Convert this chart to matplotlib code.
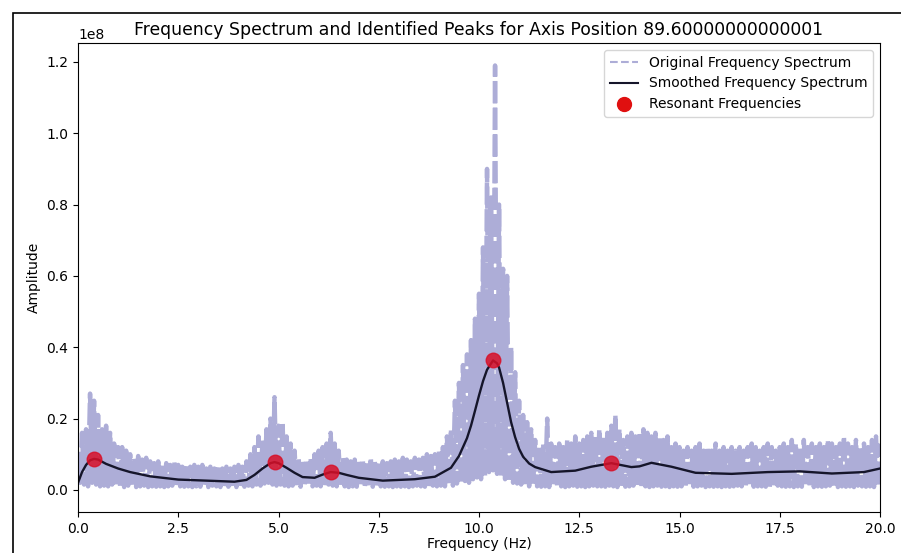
import matplotlib
matplotlib.use("Agg")
import matplotlib.pyplot as plt
from matplotlib.patches import Rectangle
from matplotlib.lines import Line2D
import numpy as np

# spectrum upper spikes, one per 0.1 Hz from 0.0 to 20.0 (units of 1e8)
top_freq = np.round(np.arange(0, 201) * 0.1, 2)
top_amp = [
    0.07, 0.16, 0.17, 0.27, 0.25, 0.21, 0.17, 0.18, 0.16, 0.13,
    0.12, 0.12, 0.11, 0.10, 0.09, 0.095, 0.085, 0.09, 0.08, 0.075,
    0.08, 0.07, 0.075, 0.07, 0.08, 0.07, 0.065, 0.07, 0.065, 0.07,
    0.065, 0.07, 0.06, 0.065, 0.06, 0.065, 0.06, 0.065, 0.06, 0.065,
    0.07, 0.065, 0.08, 0.10, 0.12, 0.15, 0.14, 0.17, 0.20, 0.26,
    0.18, 0.19, 0.15, 0.13, 0.11, 0.09, 0.08, 0.085, 0.09, 0.10,
    0.11, 0.12, 0.13, 0.16, 0.13, 0.11, 0.09, 0.085, 0.08, 0.085,
    0.08, 0.085, 0.08, 0.09, 0.08, 0.075, 0.08, 0.075, 0.08, 0.085,
    0.08, 0.09, 0.085, 0.08, 0.09, 0.085, 0.09, 0.10, 0.095, 0.10,
    0.11, 0.12, 0.15, 0.17, 0.25, 0.30, 0.35, 0.38, 0.42, 0.48,
    0.55, 0.68, 0.90, 0.82, 1.19, 0.80, 0.62, 0.60, 0.40, 0.33,
    0.25, 0.21, 0.19, 0.17, 0.14, 0.12, 0.13, 0.20, 0.13, 0.12,
    0.13, 0.12, 0.14, 0.13, 0.15, 0.13, 0.14, 0.15, 0.16, 0.15,
    0.17, 0.15, 0.16, 0.18, 0.21, 0.17, 0.14, 0.15, 0.16, 0.15,
    0.16, 0.17, 0.16, 0.15, 0.16, 0.15, 0.14, 0.15, 0.12, 0.13,
    0.12, 0.11, 0.12, 0.11, 0.12, 0.13, 0.11, 0.12, 0.11, 0.13,
    0.11, 0.12, 0.11, 0.12, 0.11, 0.12, 0.11, 0.12, 0.13, 0.12,
    0.11, 0.12, 0.13, 0.12, 0.11, 0.12, 0.13, 0.12, 0.14, 0.13,
    0.12, 0.14, 0.12, 0.13, 0.12, 0.13, 0.12, 0.14, 0.13, 0.12,
    0.13, 0.15, 0.13, 0.12, 0.14, 0.12, 0.13, 0.12, 0.14, 0.15,
    0.13,
]

# spectrum floor values between the spikes, at 0.05, 0.15, ... 19.95 Hz
low_freq = np.round(np.arange(0, 200) * 0.1 + 0.05, 2)
low_amp = [
    0.02, 0.015, 0.01, 0.02, 0.015, 0.01, 0.012, 0.01, 0.015, 0.01,
    0.01, 0.008, 0.012, 0.01, 0.008, 0.01, 0.012, 0.008, 0.01, 0.009,
    0.01, 0.008, 0.01, 0.012, 0.008, 0.01, 0.009, 0.01, 0.008, 0.01,
    0.009, 0.01, 0.008, 0.012, 0.01, 0.008, 0.01, 0.009, 0.01, 0.008,
    0.01, 0.009, 0.012, 0.01, 0.015, 0.012, 0.018, 0.02, 0.015, 0.012,
    0.015, 0.012, 0.01, 0.012, 0.01, 0.009, 0.01, 0.012, 0.01, 0.012,
    0.01, 0.012, 0.015, 0.012, 0.01, 0.009, 0.01, 0.008, 0.01, 0.009,
    0.01, 0.008, 0.01, 0.009, 0.008, 0.01, 0.009, 0.01, 0.008, 0.01,
    0.009, 0.01, 0.008, 0.01, 0.012, 0.01, 0.009, 0.01, 0.012, 0.01,
    0.012, 0.01, 0.015, 0.012, 0.018, 0.02, 0.025, 0.02, 0.03, 0.035,
    0.03, 0.04, 0.05, 0.055, 0.045, 0.04, 0.03, 0.025, 0.02, 0.018,
    0.015, 0.012, 0.01, 0.012, 0.01, 0.009, 0.01, 0.008, 0.01, 0.009,
    0.01, 0.008, 0.01, 0.012, 0.009, 0.01, 0.008, 0.01, 0.012, 0.01,
    0.01, 0.009, 0.012, 0.01, 0.008, 0.01, 0.009, 0.01, 0.012, 0.01,
    0.009, 0.01, 0.008, 0.01, 0.012, 0.009, 0.01, 0.008, 0.01, 0.009,
    0.01, 0.008, 0.01, 0.009, 0.01, 0.012, 0.008, 0.01, 0.009, 0.01,
    0.008, 0.01, 0.009, 0.01, 0.012, 0.01, 0.008, 0.01, 0.009, 0.01,
    0.01, 0.009, 0.008, 0.01, 0.012, 0.01, 0.009, 0.01, 0.008, 0.01,
    0.009, 0.01, 0.012, 0.008, 0.01, 0.009, 0.01, 0.012, 0.01, 0.008,
    0.01, 0.009, 0.01, 0.008, 0.012, 0.01, 0.009, 0.01, 0.008, 0.01,
]

smooth_freq = [0.0, 0.1, 0.2, 0.3, 0.4, 0.5, 0.7, 1.0, 1.3, 1.8, 2.5, 3.2, 3.9,
               4.2, 4.4, 4.6, 4.8, 4.9, 5.0, 5.2, 5.4, 5.6, 5.9, 6.1, 6.3, 6.5,
               6.7, 7.0, 7.6, 8.4, 8.9, 9.3, 9.5, 9.7, 9.8, 9.9, 10.0, 10.1,
               10.2, 10.35, 10.45, 10.5, 10.6, 10.7, 10.8, 10.9, 11.0, 11.1,
               11.25, 11.4, 11.8, 12.4, 12.8, 13.3, 13.8, 14.0, 14.3, 14.8,
               15.4, 16.3, 17.2, 18.0, 18.8, 19.6, 20.0]
smooth_amp = [0.02, 0.05, 0.07, 0.083, 0.087, 0.085, 0.073, 0.06, 0.05, 0.038,
              0.029, 0.026, 0.023, 0.028, 0.042, 0.06, 0.075, 0.078, 0.075,
              0.062, 0.048, 0.036, 0.034, 0.043, 0.05, 0.048, 0.042, 0.034,
              0.026, 0.03, 0.037, 0.062, 0.095, 0.145, 0.18, 0.222, 0.265,
              0.305, 0.337, 0.363, 0.355, 0.343, 0.3, 0.245, 0.19, 0.148,
              0.115, 0.093, 0.074, 0.064, 0.05, 0.054, 0.065, 0.075, 0.064,
              0.066, 0.076, 0.065, 0.048, 0.045, 0.05, 0.052, 0.046, 0.05,
              0.06]

peak_freq = [0.4, 4.9, 6.3, 10.35, 13.3]
peak_amp = [0.087, 0.078, 0.05, 0.363, 0.075]

# interleave spikes and floor into one trace
freq = np.empty(len(top_freq) + len(low_freq))
amp = np.empty_like(freq)
freq[0::2] = top_freq
freq[1::2] = low_freq
amp[0::2] = top_amp
amp[1::2] = low_amp
amp = amp * 1e8

band_color = '#5c5cb0'

fig = plt.figure(figsize=(9.01, 5.53), dpi=100)
ax = fig.add_axes([0.0866, 0.0741, 0.8901, 0.8481])

ax.plot(freq, amp, linestyle=(0, (5, 1)), color=band_color, alpha=0.5, lw=3.2)
ax.plot(smooth_freq, np.array(smooth_amp) * 1e8, color='#15152a', lw=1.7)
ax.scatter(peak_freq, np.array(peak_amp) * 1e8, s=110, color='#d81028',
           alpha=0.85, zorder=3)

ax.set_xlim(0, 20)
ax.set_ylim(-0.062e8, 1.253e8)
ax.set_title('Frequency Spectrum and Identified Peaks for Axis Position 89.60000000000001',
             fontsize=12.4)
ax.set_xlabel('Frequency (Hz)', labelpad=1)
ax.set_ylabel('Amplitude')

handles = [
    Line2D([], [], linestyle='--', color=band_color, alpha=0.5, lw=1.5),
    Line2D([], [], color='#15152a', lw=1.5),
    Line2D([], [], linestyle='', marker='o', markersize=10, color='#e01010'),
]
labels = ['Original Frequency Spectrum', 'Smoothed Frequency Spectrum',
          'Resonant Frequencies']
ax.legend(handles, labels, loc='upper right')

fig.add_artist(Rectangle((0.0144, -0.05), 1.0, 1.0265, transform=fig.transFigure,
                         fill=False, ec='black', lw=1.2))

fig.savefig('out.png', dpi=100)
